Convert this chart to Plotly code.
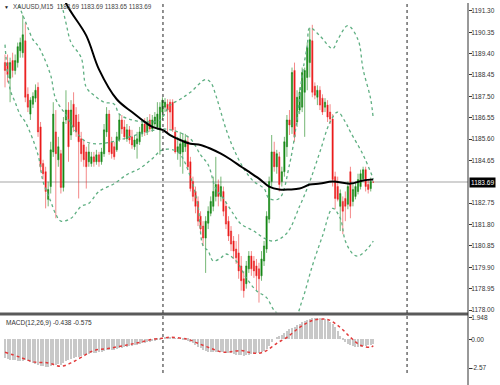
import plotly.graph_objects as go

# ---------------- data (XAUUSD M15) ----------------
idx = list(range(146))

opens = [1189.00,1189.00,1188.30,1189.09,1188.65,1189.00,1189.53,1189.44,1189.97,1187.59,
         1186.71,1187.15,1187.42,1187.90,1186.14,1184.51,1184.15,1182.92,1183.49,1185.03,
         1185.92,1184.68,1184.95,1183.45,1186.45,1186.89,1185.78,1187.15,1186.67,1186.36,
         1185.61,1185.34,1185.03,1184.59,1184.51,1184.81,1184.59,1184.90,1184.59,1184.95,
         1185.92,1186.71,1185.48,1185.26,1185.12,1185.56,1186.45,1186.14,1185.61,1186.01,
         1185.70,1185.26,1185.39,1185.48,1185.83,1186.27,1185.92,1186.45,1186.05,1186.27,
         1186.14,1186.01,1186.80,1187.02,1187.15,1187.24,1187.24,1185.92,1185.03,1184.95,
         1185.03,1185.26,1185.48,1184.59,1183.71,1183.27,1182.83,1182.17,1181.73,1181.20,
         1181.86,1182.30,1182.61,1183.05,1183.58,1183.05,1183.27,1182.61,1181.95,1181.51,
         1181.07,1180.71,1180.54,1179.96,1179.39,1179.17,1179.83,1180.40,1180.18,1179.96,
         1179.83,1179.52,1180.18,1180.71,1182.04,1183.71,1185.03,1184.37,1184.81,1183.71,
         1184.15,1185.26,1186.45,1186.14,1188.65,1186.36,1186.89,1187.02,1187.68,1188.34,
         1189.00,1189.97,1187.95,1187.46,1187.77,1187.42,1187.02,1187.11,1186.80,1186.49,
         1183.93,1183.49,1182.61,1182.83,1182.96,1182.70,1184.15,1182.83,1183.05,1183.27,
         1183.49,1183.84,1184.24,1183.58,1183.40,1183.69]

highs = [1189.36,1189.36,1189.22,1189.44,1189.36,1189.89,1190.11,1191.12,1190.77,1187.90,
         1187.46,1187.68,1188.03,1188.12,1186.36,1184.68,1184.37,1183.71,1185.48,1187.24,
         1186.89,1185.70,1185.12,1186.58,1187.77,1187.24,1187.33,1187.68,1187.02,1186.71,
         1185.92,1185.56,1185.26,1185.39,1185.03,1185.03,1185.12,1185.03,1185.21,1186.27,
         1187.02,1186.89,1185.70,1185.48,1185.92,1186.71,1186.67,1186.45,1186.27,1186.18,
         1186.01,1185.78,1185.92,1186.14,1186.49,1186.53,1186.58,1186.71,1186.67,1186.80,
         1187.24,1187.24,1187.46,1187.42,1187.37,1187.37,1187.37,1186.14,1185.70,1185.92,
         1185.83,1185.83,1185.70,1184.81,1183.93,1183.49,1183.05,1182.39,1181.95,1182.17,
         1182.61,1183.05,1183.93,1184.81,1183.80,1183.93,1183.49,1182.83,1182.17,1181.73,
         1181.29,1181.07,1181.37,1180.40,1179.74,1180.18,1180.62,1180.62,1180.40,1180.27,
         1180.10,1180.62,1181.07,1182.39,1183.93,1185.78,1185.48,1185.12,1185.03,1184.37,
         1185.70,1186.67,1186.89,1188.78,1189.00,1187.77,1187.90,1188.78,1188.78,1189.89,
         1190.55,1190.68,1188.12,1187.99,1187.95,1187.59,1187.42,1187.33,1187.15,1186.71,
         1184.15,1183.93,1183.36,1183.05,1183.27,1183.71,1184.37,1183.62,1183.71,1184.06,
         1184.24,1184.37,1184.37,1183.80,1183.89,1183.69]

lows = [1187.90,1188.12,1187.24,1188.34,1188.47,1188.78,1189.22,1189.22,1187.24,1186.80,
        1186.45,1186.98,1187.24,1185.70,1184.15,1183.80,1182.52,1182.61,1183.18,1184.81,
        1182.08,1184.37,1183.18,1183.27,1186.27,1184.59,1185.56,1185.92,1185.70,1182.96,
        1184.59,1184.37,1183.40,1184.37,1184.37,1184.37,1184.46,1184.37,1184.46,1184.81,
        1185.70,1184.90,1184.73,1184.68,1185.03,1185.48,1185.83,1185.56,1185.48,1185.39,
        1185.17,1185.12,1184.73,1185.34,1185.70,1185.74,1185.78,1185.92,1185.92,1186.09,
        1186.01,1184.90,1186.45,1186.80,1185.92,1186.05,1185.92,1184.95,1184.68,1184.37,
        1184.06,1185.03,1184.24,1183.27,1182.83,1182.30,1181.73,1181.42,1180.85,1179.65,
        1181.60,1182.17,1182.39,1182.83,1182.61,1182.83,1182.17,1181.60,1181.07,1180.62,
        1180.27,1180.05,1179.39,1178.86,1178.55,1178.95,1179.65,1179.52,1179.43,1178.86,
        1178.33,1179.30,1179.96,1180.54,1181.86,1183.49,1184.15,1184.06,1183.27,1183.49,
        1183.93,1184.81,1185.78,1185.83,1185.48,1186.14,1186.71,1186.80,1185.70,1187.77,
        1188.34,1187.46,1187.37,1187.11,1186.89,1186.67,1186.80,1186.36,1186.27,1183.49,
        1182.48,1182.83,1181.51,1181.37,1181.95,1182.48,1182.08,1182.61,1182.92,1183.14,
        1183.36,1183.71,1183.27,1183.18,1183.27,1183.65]

closes = [1188.65,1188.47,1189.00,1188.65,1189.09,1189.71,1189.89,1190.24,1187.46,1187.02,
          1187.33,1187.50,1187.77,1185.92,1184.37,1184.06,1183.27,1183.36,1185.12,1186.71,
          1184.95,1185.26,1183.45,1186.36,1186.89,1185.26,1186.89,1186.14,1185.92,1185.48,
          1184.95,1184.68,1184.37,1185.03,1184.81,1184.59,1184.90,1184.59,1185.03,1186.01,
          1186.71,1185.03,1184.95,1184.81,1185.70,1186.45,1186.05,1185.70,1186.01,1185.56,
          1185.34,1185.56,1185.61,1185.92,1186.27,1185.92,1186.36,1186.05,1186.45,1186.58,
          1186.71,1187.02,1187.33,1187.24,1186.89,1186.80,1186.01,1185.03,1185.26,1185.39,
          1185.48,1185.56,1184.37,1183.40,1183.05,1182.61,1181.95,1181.60,1181.20,1181.95,
          1182.39,1182.83,1183.27,1183.58,1183.05,1183.49,1182.39,1181.82,1181.29,1180.93,
          1180.62,1180.32,1179.74,1179.30,1178.86,1179.96,1180.40,1179.83,1179.74,1179.52,
          1179.39,1180.27,1180.85,1182.17,1183.71,1185.03,1184.37,1184.95,1183.58,1184.15,
          1185.48,1186.45,1186.23,1188.56,1185.70,1187.46,1187.68,1188.56,1188.65,1189.67,
          1190.02,1187.68,1187.55,1187.77,1187.11,1186.80,1187.24,1186.58,1186.49,1183.80,
          1182.96,1182.92,1183.18,1182.39,1182.61,1183.49,1182.61,1183.36,1183.49,1183.80,
          1184.06,1184.24,1183.49,1183.36,1183.71,1183.69]

# Bollinger bands (read at sample bars)
bb_up_idx = [0, 8, 16, 22, 24, 26, 30, 32, 35, 39, 43, 45, 50, 56, 61, 65, 69, 73, 79, 81, 83, 85, 87,
             90, 94, 98, 102, 104, 108, 112, 115, 117, 119, 120, 124, 129, 131, 135, 139, 141, 144, 145]
bb_up = [1195.62, 1194.74, 1193.19, 1191.65, 1190.77, 1189.89, 1189.22, 1187.90, 1187.55, 1187.24,
         1187.15, 1186.71, 1186.45, 1186.36, 1186.45, 1187.11, 1187.37, 1187.68, 1188.25, 1188.12,
         1187.55, 1186.80, 1186.05, 1185.17, 1184.29, 1183.71, 1183.40, 1182.96, 1182.96, 1184.46,
         1186.49, 1188.43, 1189.75, 1190.55, 1190.19, 1189.62, 1190.02, 1190.64, 1190.02, 1188.70,
         1187.37, 1186.49]
bb_mid_idx = [0, 4, 7, 9, 11, 13, 15, 18, 20, 24, 28, 32, 37, 45, 53, 62, 68, 73, 77, 80, 83, 86,
              90, 93, 98, 102, 106, 111, 116, 120, 124, 128, 131, 134, 136, 141, 145]
bb_mid = [1192.75, 1191.87, 1191.12, 1190.55, 1190.02, 1189.75, 1189.31, 1188.43, 1187.37, 1186.67,
          1185.92, 1185.48, 1185.39, 1185.56, 1185.83, 1186.05, 1185.92, 1185.61, 1184.90, 1184.46,
          1183.40, 1182.96, 1182.26, 1181.82, 1181.51, 1181.20, 1181.07, 1181.42, 1182.61, 1183.71,
          1185.03, 1186.36, 1186.80, 1186.36, 1185.92, 1184.90, 1183.84]
bb_low_idx = [0, 2, 4, 6, 8, 13, 15, 18, 20, 22, 26, 30, 33, 37, 43, 48, 53, 58, 62, 68, 73, 76,
              78, 80, 82, 85, 87, 91, 95, 99, 103, 106, 110, 114, 117, 121, 125, 129, 132, 134,
              137, 139, 143, 145]
bb_low = [1189.80, 1187.81, 1187.24, 1186.67, 1186.36, 1184.90, 1183.71, 1182.83, 1182.26, 1181.95,
          1182.08, 1182.61, 1182.74, 1183.27, 1183.62, 1184.02, 1184.29, 1184.73, 1185.12, 1185.03,
          1183.93, 1182.61, 1180.85, 1180.62, 1180.18, 1180.32, 1180.49, 1180.18, 1179.43, 1178.86,
          1178.55, 1177.98, 1177.63, 1177.63, 1178.42, 1179.96, 1181.29, 1182.52, 1182.08, 1181.07,
          1180.49, 1180.40, 1180.76, 1181.07]

# Moving average (black)
ma_idx = [18, 24, 32, 37, 44, 50, 54, 58, 62, 65, 69, 73, 77, 81, 85, 89, 93, 96, 100, 104, 108,
          112, 116, 120, 124, 129, 136, 141, 145]
ma_val = [1193.63, 1191.65, 1190.20, 1188.70, 1187.37, 1186.80, 1186.45, 1186.14, 1186.01, 1185.78,
          1185.56, 1185.39, 1185.34, 1185.17, 1184.95, 1184.68, 1184.37, 1184.15, 1183.84, 1183.49,
          1183.36, 1183.36, 1183.40, 1183.58, 1183.62, 1183.71, 1183.62, 1183.76, 1183.80]

# MACD(12,26,9)
macd_hist = [-1.7, -1.8, -1.85, -1.9, -1.9, -1.95, -2.0, -1.95, -1.9, -2.0, -2.1,
             -2.15, -2.2, -2.3, -2.4, -2.45, -2.5, -2.5, -2.45, -2.35, -2.3,
             -2.25, -2.3, -2.15, -1.95, -1.85, -1.8, -1.7, -1.65, -1.6, -1.5,
             -1.4, -1.4, -1.35, -1.3, -1.3, -1.25, -1.2, -1.2, -1.1, -1.0, -1.0, -1.0, -0.95, -0.9, -0.85,
             -0.8, -0.75, -0.7, -0.65, -0.6, -0.55, -0.5, -0.45, -0.4, -0.35, -0.3, -0.25, -0.2, -0.15, -0.1, -0.05,
             0.05, 0.08, 0.1, 0.1, 0.08, 0.05, 0.02, 0.0, -0.05, -0.1, -0.15, -0.25,
             -0.4, -0.55, -0.7, -0.85, -1.0, -1.1, -1.15, -1.2, -1.2, -1.2, -1.2, -1.2, -1.2, -1.25, -1.3,
             -1.3, -1.35, -1.4, -1.4, -1.45, -1.5, -1.45, -1.4, -1.35, -1.35, -1.3, -1.3, -1.2, -1.1, -0.9, -0.6,
             -0.3, 0.0, 0.2, 0.3, 0.35,
             0.5, 0.7, 0.9, 1.0, 1.1, 1.2,
             1.35, 1.5, 1.6, 1.7, 1.8, 1.85,
             1.9, 1.9, 1.85, 1.8, 1.75, 1.7,
             1.5, 1.3, 1.1, 0.7, 0.3,
             -0.1, -0.3, -0.45, -0.55, -0.65, -0.7, -0.7, -0.7, -0.65, -0.6, -0.55, -0.5, -0.438]
sig_idx = [0, 6, 11, 17, 22, 26, 30, 35, 41, 48, 53, 58, 62, 65, 72, 76, 81, 86, 93, 96, 100, 103,
           107, 111, 116, 121, 127, 132, 136, 140, 144, 145]
sig_val = [-1.15, -1.6, -2.0, -2.1, -2.4, -2.1, -1.6, -1.0, -0.8, -0.5, -0.27, 0.0, 0.1, 0.18, 0.0,
           -0.35, -0.8, -1.15, -1.0, -1.15, -1.24, -1.0, -0.35, 0.18, 1.06, 1.68, 1.77, 1.06, 0.18,
           -0.53, -0.7, -0.575]

price_ticks = [1178.00, 1178.95, 1179.90, 1180.85, 1181.80, 1182.75, 1184.65, 1185.60,
               1186.55, 1187.50, 1188.45, 1189.40, 1190.35, 1191.30]
macd_ticks = [1.948, 0.0, -2.57]
macd_ticktext = ["1.948", "0.00", "-2.57"]
day_breaks = [62.2, 158.3]
last_price = 1183.69
title_text = "XAUUSD,M15  1183.69 1183.69 1183.65 1183.69"
macd_text = "MACD(12,26,9) -0.438 -0.575"

# ---------------- figure ----------------
FONT = "Liberation Sans"
band_col = "rgb(95,175,130)"

fig = go.Figure()
fig.add_trace(go.Candlestick(
    x=idx, open=opens, high=highs, low=lows, close=closes,
    increasing=dict(line=dict(color="rgba(25,135,25,0.6)", width=1), fillcolor="#138a13"),
    decreasing=dict(line=dict(color="rgba(235,40,40,0.55)", width=1), fillcolor="#ea1414"),
    whiskerwidth=0, xaxis="x", yaxis="y", showlegend=False, hoverinfo="skip"))

for bx, by in [(bb_up_idx, bb_up), (bb_mid_idx, bb_mid), (bb_low_idx, bb_low)]:
    fig.add_trace(go.Scatter(x=bx, y=by, mode="lines", xaxis="x", yaxis="y",
                             line=dict(color=band_col, width=1.3, dash="dot", shape="spline"),
                             showlegend=False, hoverinfo="skip"))

fig.add_trace(go.Scatter(x=ma_idx, y=ma_val, mode="lines", xaxis="x", yaxis="y",
                         line=dict(color="black", width=2, shape="spline"),
                         showlegend=False, hoverinfo="skip"))

fig.add_trace(go.Bar(x=idx, y=macd_hist, xaxis="x2", yaxis="y2", width=0.4,
                     marker=dict(color="#c8c8c8", line=dict(width=0)),
                     showlegend=False, hoverinfo="skip"))
fig.add_trace(go.Scatter(x=sig_idx, y=sig_val, mode="lines", xaxis="x2", yaxis="y2",
                         line=dict(color="#e23a3a", width=1.5, dash="dot", shape="spline"),
                         showlegend=False, hoverinfo="skip"))

PLOT_H = 385 - 12
main_bottom = (PLOT_H - 312) / PLOT_H
macd_top = (PLOT_H - 316) / PLOT_H
sep_y = (PLOT_H - 313.5) / PLOT_H
xr = [-1.97, 182.3]

shapes = [
    dict(type="line", xref="paper", yref="y", x0=0, x1=1, y0=last_price, y1=last_price,
         line=dict(color="#d2d2d2", width=2), layer="below"),
    dict(type="line", xref="paper", yref="paper", x0=0, x1=1, y0=sep_y, y1=sep_y,
         line=dict(color="#5a5a5a", width=3)),
    dict(type="line", xref="paper", yref="paper", x0=1, x1=1, y0=-0.04, y1=1,
         line=dict(color="#333", width=1)),
]
for d in day_breaks:
    shapes.append(dict(type="line", xref="x", yref="paper", x0=d, x1=d, y0=0, y1=1,
                       line=dict(color="#222", width=1, dash="dot")))

tick_font = dict(family=FONT, size=6.5, color="#333")
fig.update_layout(
    width=500, height=385, margin=dict(l=0, r=32, t=0, b=12),
    paper_bgcolor="white", plot_bgcolor="white", showlegend=False,
    bargap=0,
    xaxis=dict(domain=[0, 1], range=xr, visible=False, anchor="y",
               rangeslider=dict(visible=False), fixedrange=True),
    xaxis2=dict(domain=[0, 1], range=xr, visible=False, anchor="y2", matches="x"),
    yaxis=dict(domain=[main_bottom, 1], range=[1177.89, 1191.65], side="right",
               tickvals=price_ticks, ticktext=[f"{v:.2f}" for v in price_ticks],
               showgrid=False, zeroline=False, ticks="outside", ticklen=3, tickcolor="#333",
               tickfont=tick_font, showline=False, ticklabelstandoff=-2),
    yaxis2=dict(domain=[0, macd_top], range=[-3.0, 2.04], side="right",
                tickvals=macd_ticks, ticktext=macd_ticktext,
                showgrid=False, zeroline=False, ticks="outside", ticklen=3, tickcolor="#333",
                tickfont=tick_font, showline=False, ticklabelstandoff=-2),
    shapes=shapes,
    annotations=[
        dict(text="▼", xref="paper", yref="paper", x=0.004, y=1, xanchor="left", yanchor="top",
             showarrow=False, font=dict(family=FONT, size=5, color="#222"), yshift=1),
        dict(text=title_text, xref="paper", yref="paper", x=0.024, y=1, xanchor="left",
             yanchor="top", showarrow=False, font=dict(family=FONT, size=6.3, color="#444"), yshift=2),
        dict(text=macd_text, xref="paper", yref="paper", x=0.008, y=macd_top, xanchor="left",
             yanchor="top", showarrow=False, font=dict(family=FONT, size=6.5, color="#333"), yshift=-1),
        dict(text=f"{last_price:.2f}", xref="paper", yref="y", x=1, y=last_price, xanchor="left",
             yanchor="middle", showarrow=False, bgcolor="black", borderpad=1, xshift=1,
             font=dict(family=FONT, size=6.5, color="white")),
    ],
)

fig.write_html("out.html", config={"displayModeBar": False},
               post_script="document.body.style.margin='0';document.body.style.overflow='hidden';")
